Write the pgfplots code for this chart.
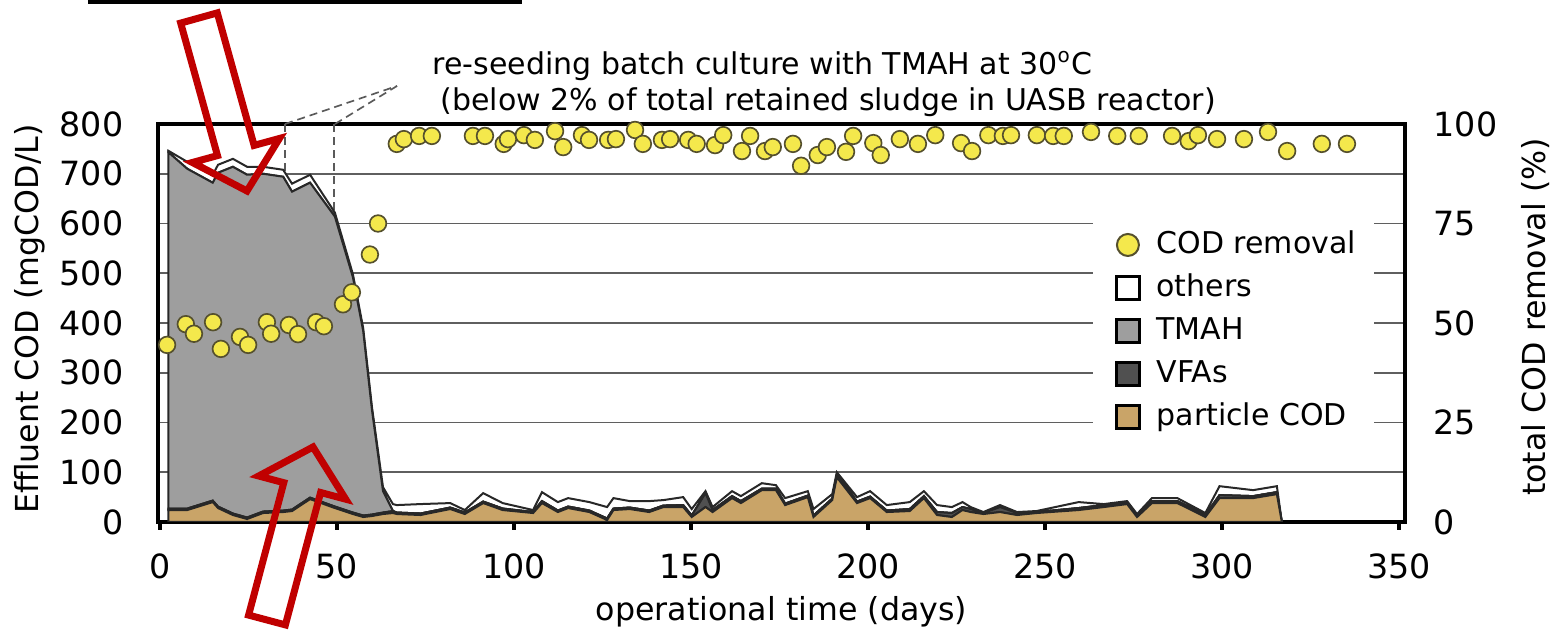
\documentclass[border=0pt]{standalone}
\usepackage{fontspec}
\setmainfont{DejaVu Sans}
\usepackage{pgfplots}
\pgfplotsset{compat=1.18}
\usepackage{pgfplotstable}

\definecolor{tanc}{RGB}{201,164,104}
\definecolor{vfac}{RGB}{80,80,80}
\definecolor{tmahc}{RGB}{158,158,158}
\definecolor{linec}{RGB}{40,40,40}
\definecolor{gridc}{RGB}{95,95,95}
\definecolor{yelc}{RGB}{244,232,76}
\definecolor{edgec}{RGB}{85,80,45}
\definecolor{arrc}{RGB}{192,0,0}
\definecolor{dashc}{RGB}{90,90,90}

% stacked effluent COD (mgCOD/L): particle, VFAs, TMAH, others
\pgfplotstableread{
d     P   V   M    O
2.4   24  3   716  3
7.7   24  3   683  14
14.9  40  3   639  16
16.4  28  3   671  16
20.6  14  3   697  16
24.6  6   3   689  16
29.1  18  3   679  14
34.8  20  3   671  14
37.3  22  3   639  16
42.4  46  3   633  16
49.4  28  3   583  8
54.5  16  3   473  6
57.4  10  3   371  6
59.9  12  3   209  6
63.0  16  3   43   8
65.8  18  4   0    14
66.9  16  3   0    15
73.6  14  3   0    19
82.0  26  3   0    9
86.1  16  3   0    5
91.3  38  3   0    17
96.8  24  3   0    11
105.4 18  2   0    4
107.9 38  4   0    18
112.4 20  3   0    17
115.3 28  3   0    17
121.3 20  3   0    17
126.3 4   3   0    23
128.1 24  3   0    21
132.7 26  3   0    13
138.2 20  3   0    19
142.2 30  3   0    11
147.8 30  4   0    16
150.2 10  3   0    13
154.1 30  28  0    4
156.1 20  4   0    6
161.6 48  4   0    10
164.1 38  4   0    10
170.0 64  3   0    11
174.0 64  3   0    7
176.6 34  3   0    11
183.0 50  3   0    9
184.6 10  3   0    13
189.9 44  3   0    9
191.2 90  6   0    4
196.9 38  3   0    9
200.6 48  3   0    11
205.3 20  3   0    11
211.8 22  4   0    14
215.8 48  4   0    10
219.5 14  6   0    14
223.7 10  8   0    12
226.7 24  6   0    10
229.0 20  6   0    4
232.6 16  2   0    2
237.3 20  10  0    4
242.1 14  4   0    2
247.6 18  2   0    2
259.5 24  4   0    12
266.6 30  4   0    2
273.2 36  3   0    3
276.0 10  3   0    3
280.2 38  4   0    6
287.4 38  4   0    6
295.3 10  4   0    4
299.3 48  6   0    18
308.8 48  4   0    12
315.5 56  4   0    12
316.9 0   0   0    0
}\stacktab

% total COD removal (%)
\pgfplotstableread{
d     r
2.0   44.5
7.3   49.7
9.6   47.3
15.0  50.2
17.2  43.5
22.6  46.5
24.9  44.5
30.2  50.2
31.4  47.3
36.4  49.5
39.0  47.2
44.1  50.2
46.3  49.2
51.7  54.7
54.2  57.7
59.3  67.2
61.6  75
66.9  95
68.9  96.2
73.2  97
76.8  97
88.4  97
91.8  97
97.1  95
98.3  96.2
102.8 97.2
105.9 96
111.6 98.2
113.9 94.2
119.2 97.2
121.2 96
126.6 96
128.8 96.2
134.2 98.5
136.4 95
141.8 96
144.1 96.2
149.2 96
151.6 95
156.8 94.7
159.1 97.2
164.4 93.2
166.7 97
170.9 93.2
173.1 94.2
178.8 95
181.1 89.5
185.8 92.2
188.4 94.2
193.8 93
195.8 97
201.5 95.2
203.6 92.2
209.0 96.2
214.1 95
219.0 97.2
226.3 95.2
229.4 93.2
234.0 97.2
238.1 97
240.4 97.2
247.7 97.2
252.3 97
255.3 97
263.0 98
270.4 97
276.5 97
285.9 97
290.6 95.7
293.2 97.2
298.6 96.2
306.2 96.2
313.0 98
318.4 93.2
328.2 95
335.3 95
}\remtab

\pgfplotsset{
  /pgf/number format/assume math mode=true,
  every axis/.append style={
    scale only axis, width=374.1pt, height=119.4pt,
    xmin=-0.56, xmax=351.7,
    tick label style={font=\fontsize{10}{12}\selectfont},
    label style={font=\fontsize{9.5}{11}\selectfont},
  },
}

\begin{document}
\begin{tikzpicture}[px/.style={shift={(-47.4pt,156.6pt)},x=0.3pt,y=-0.3pt}]
\path[px, use as bounding box] (0,0) rectangle (1554,633);

\begin{axis}[
  ymin=0, ymax=800,
  xtick={0,50,...,350}, ytick={0,100,...,800},
  xtick pos=left, tick align=outside, major tick length=2.4pt,
  xtick style={line width=1pt, black},
  ytick style={draw=none},
  ymajorgrids, major grid style={line width=0.5pt, gridc},
  axis line style={line width=1.2pt},
  yticklabel style={anchor=east, inner sep=0pt, xshift=-7.8pt},
  xticklabel style={anchor=north, inner sep=0pt, yshift=-6.9pt},
  xlabel={operational time (days)},
  xlabel style={at={(axis description cs:0.5,-0.2261)}, anchor=center},
  ylabel={Effluent COD (mgCOD/L)},
  ylabel style={at={(axis description cs:-0.1026,0.51)}, anchor=center},
  stack plots=y,
]
\fill[white] (axis cs:263.6,650) rectangle (axis cs:342.9,150);
\addplot[fill=tanc, draw=linec, line width=0.6pt] table[x=d, y=P] {\stacktab} \closedcycle;
\addplot[fill=vfac, draw=linec, line width=0.6pt] table[x=d, y=V] {\stacktab} \closedcycle;
\addplot[fill=tmahc, draw=linec, line width=0.6pt] table[x=d, y=M] {\stacktab} \closedcycle;
\addplot[fill=white, draw=linec, line width=0.6pt] table[x=d, y=O] {\stacktab} \closedcycle;
\draw[dashc, line width=0.5pt, dash pattern=on 2.4pt off 1.5pt] (axis cs:35.3,0) -- (axis cs:35.3,800);
\draw[dashc, line width=0.5pt, dash pattern=on 2.4pt off 1.5pt] (axis cs:49.2,0) -- (axis cs:49.2,800);
\end{axis}

\begin{axis}[
  ymin=0, ymax=100, ytick={0,25,50,75,100},
  axis x line=none, axis y line*=right,
  y axis line style={draw=none}, ytick style={draw=none},
  yticklabel style={anchor=west, inner sep=0pt, xshift=8.4pt},
  ylabel={total COD removal (\%)},
  ylabel style={at={(axis description cs:1.1043,0.515)}, anchor=center},
  clip=false,
  legend style={at={(axis description cs:0.7675,0.7337)}, anchor=north west,
    draw=none, fill=none, inner sep=0pt, outer sep=0pt,
    font=\fontsize{9}{10}\selectfont,
    nodes={inner sep=0pt, text height=7pt, text depth=2pt},
    row sep=3.9pt, column sep=4.75pt},
  legend cell align=left,
]
\addplot[only marks, mark=*, mark size=2.5pt, forget plot,
  mark options={fill=yelc, draw=edgec, line width=0.5pt}] table[x=d, y=r] {\remtab};
\addlegendimage{legend image code/.code={\draw[fill=yelc, draw=edgec, line width=0.6pt] (0pt,0pt) circle (3.3pt);}}
\addlegendentry{COD removal}
\addlegendimage{legend image code/.code={\draw[fill=white, draw=black, line width=0.9pt] (-3.4pt,-3.4pt) rectangle (3.4pt,3.4pt);}}
\addlegendentry{others}
\addlegendimage{legend image code/.code={\draw[fill=tmahc, draw=black, line width=0.9pt] (-3.4pt,-3.4pt) rectangle (3.4pt,3.4pt);}}
\addlegendentry{TMAH}
\addlegendimage{legend image code/.code={\draw[fill=vfac, draw=black, line width=0.9pt] (-3.4pt,-3.4pt) rectangle (3.4pt,3.4pt);}}
\addlegendentry{VFAs}
\addlegendimage{legend image code/.code={\draw[fill=tanc, draw=black, line width=0.9pt] (-3.4pt,-3.4pt) rectangle (3.4pt,3.4pt);}}
\addlegendentry{particle COD}
\end{axis}

\begin{scope}[px]
\draw[line width=1pt] (88,2) -- (522,2);
\draw[dashc, line width=0.5pt, dash pattern=on 2.4pt off 1.5pt] (285,124) -- (397,86);
\draw[dashc, line width=0.5pt, dash pattern=on 2.4pt off 1.5pt] (335,124) -- (397,86);
\node[anchor=base west, font=\fontsize{9}{10}\selectfont, inner sep=0pt] at (432,75)
  {re-seeding batch culture with TMAH at 30\textsuperscript{o}C};
\node[anchor=base west, font=\fontsize{9}{10}\selectfont, inner sep=0pt] at (440,111)
  {(below 2\% of total retained sludge in UASB reactor)};
\draw[arrc, line width=2.1pt, line join=miter] (217.3,12.9) -- (254.1,145.4) -- (279.4,138.5)
  -- (247,191) -- (192.4,162.5) -- (217.5,155.6) -- (180.7,23.1) -- cycle;
\draw[arrc, line width=2.1pt, line join=miter] (285.4,624.9) -- (320.6,492.5) -- (345.7,499.2)
  -- (313,447) -- (258.7,476.0) -- (283.8,482.7) -- (248.6,615.1) -- cycle;
\end{scope}
\end{tikzpicture}
\end{document}
